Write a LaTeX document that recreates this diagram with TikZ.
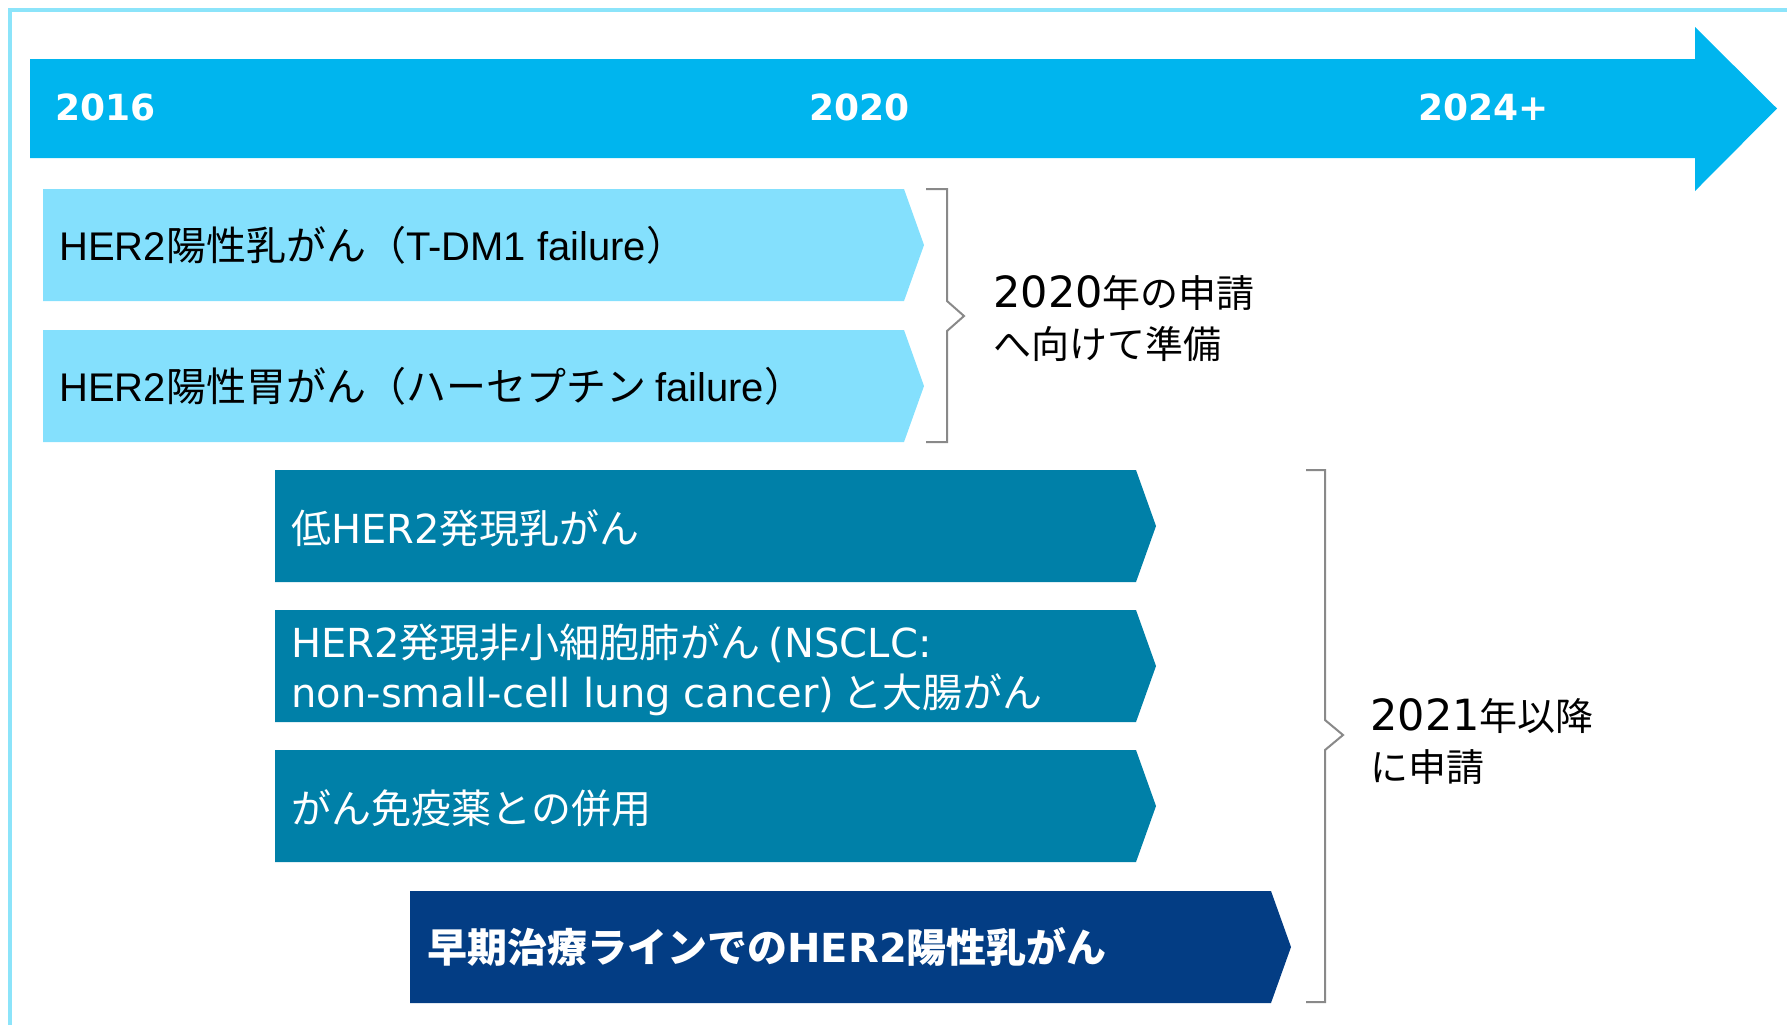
\documentclass[tikz,border=0pt]{standalone}
\usepackage{fontspec}
\setmainfont{Noto Sans CJK JP}
\newfontfamily\yearfont{DejaVu Sans}
\newfontfamily\arialfont{Liberation Sans}
\usepackage{tikz}
\usetikzlibrary{positioning}

\definecolor{timeblue}{RGB}{0,181,238}
\definecolor{lightblue}{RGB}{132,224,253}
\definecolor{tealblue}{RGB}{0,128,168}
\definecolor{navyblue}{RGB}{3,61,132}
\definecolor{framecol}{RGB}{140,228,250}
\definecolor{bracketgray}{RGB}{137,137,137}

\begin{document}
\begin{tikzpicture}[x=0.5pt,y=-0.5pt,
  year/.style={text=white,font=\yearfont\bfseries\fontsize{18}{22}\selectfont,anchor=base west,inner sep=0},
  boxtext/.style={font=\fontsize{20}{25}\selectfont,anchor=base west,inner sep=0,align=left},
  sidetext/.style={font=\fontsize{19}{25.5}\selectfont,anchor=base west,inner sep=0,align=left},
  bracketline/.style={draw=bracketgray,line width=1pt}]
\useasboundingbox (0,0) rectangle (1787,1025);
\draw[framecol,line width=2pt] (10,1025) -- (10,10) -- (1787,10);
% timeline
\fill[timeblue] (30,59) -- (1695,59) -- (1695,27) -- (1777,108.5) -- (1695,191) -- (1695,158) -- (30,158) -- cycle;
\node[year] (y2016) at (55,120) {2016};
\node[year] (y2020) at (809,120) {2020};
\node[year] (y2024) at (1418,120) {2024+};
% boxes
\fill[lightblue] (43,189) -- (904,189) -- (924,245) -- (904,301) -- (43,301) -- cycle;
\fill[lightblue] (43,330) -- (904,330) -- (924,386) -- (904,442) -- (43,442) -- cycle;
\fill[tealblue] (275,470) -- (1136,470) -- (1156,526) -- (1136,582) -- (275,582) -- cycle;
\fill[tealblue] (275,610) -- (1136,610) -- (1156,666) -- (1136,722) -- (275,722) -- cycle;
\fill[tealblue] (275,750) -- (1136,750) -- (1156,806) -- (1136,862) -- (275,862) -- cycle;
\fill[navyblue] (410,891) -- (1271,891) -- (1291,947) -- (1271,1003) -- (410,1003) -- cycle;
\node[boxtext] (gastric1) at (59,260) {{\arialfont HER2}陽性乳がん（{\arialfont T-DM1 failure}）};
\node[boxtext] (gastric2) at (59,401) {{\arialfont HER2}陽性胃がん（ハーセプチン {\arialfont failure}）};
\node[boxtext,text=white] (low) at (291,543) {低{\yearfont HER2}発現乳がん};
\node[boxtext,text=white] (nsclc) at (291,707) {{\yearfont HER2}発現非小細胞肺がん {\yearfont (NSCLC:}\\{\yearfont non-small-cell lung cancer)} と大腸がん};
\node[boxtext,text=white] (combo) at (291,823) {がん免疫薬との併用};
\node[boxtext,text=white,font=\bfseries\fontsize{20}{25}\selectfont] (early) at (427,962) {早期治療ラインでの{\yearfont\bfseries HER2}陽性乳がん};
% brackets
\draw[bracketline] (926,189) -- (947,189) -- (947,301) -- (964,316) -- (947,331) -- (947,442) -- (926,442);
\draw[bracketline] (1306,470) -- (1325,470) -- (1325,720) -- (1343,735) -- (1325,750) -- (1325,1002) -- (1306,1002);
\node[sidetext] (plan2020) at (993,358) {{\yearfont\fontsize{21.5}{25.5}\selectfont 2020}年の申請\\へ向けて準備};
\node[sidetext] (plan2021) at (1370,781) {{\yearfont\fontsize{21.5}{25.5}\selectfont 2021}年以降\\に申請};
\end{tikzpicture}
\end{document}
